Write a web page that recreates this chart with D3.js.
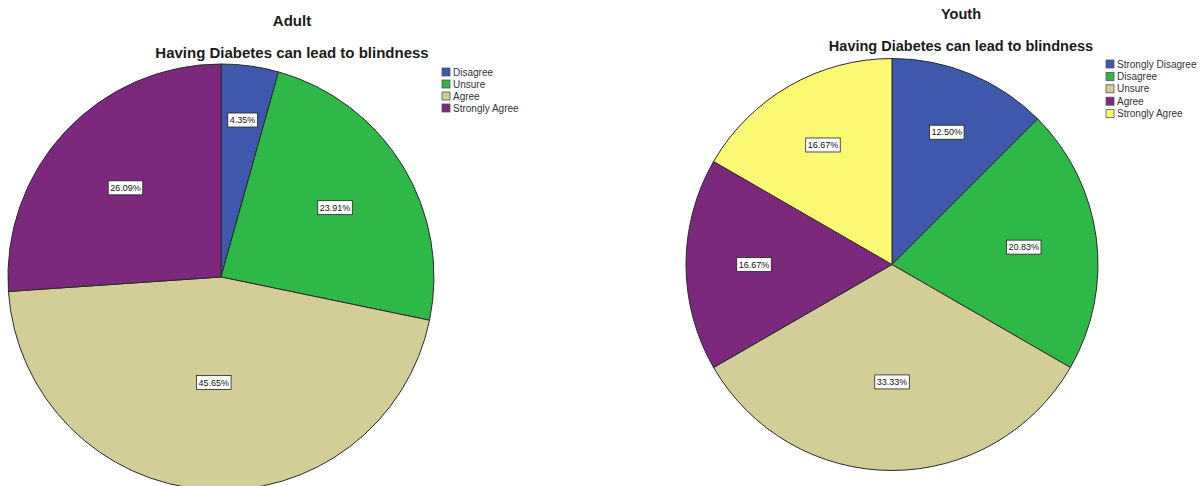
<!DOCTYPE html>
<meta charset="utf-8">
<title>Having Diabetes can lead to blindness</title>
<style>
body {
  margin: 0;
  background: #fff;
  font-family: "Liberation Sans", Arial, sans-serif;
}
.slice {
  stroke: #2a2a2a;
  stroke-width: 1px;
  vector-effect: non-scaling-stroke;
}
.title {
  font-weight: bold;
  fill: #1a1a1a;
}
.lbl rect {
  fill: #fff;
  stroke: #222;
  stroke-width: .8px;
}
.lbl text {
  font-size: 9px;
  fill: #111;
}
.legend text {
  font-size: 10px;
  fill: #333;
}
.legend rect {
  stroke: #555;
  stroke-width: .8px;
}
</style>
<body>
<script src="https://cdn.jsdelivr.net/npm/d3@7"></script>
<script>

var adultCategories = ["Disagree", "Unsure", "Agree", "Strongly Agree"],
    adultValues = [4.35, 23.91, 45.65, 26.09];

var youthCategories = ["Strongly Disagree", "Disagree", "Unsure", "Agree", "Strongly Agree"],
    youthValues = [12.50, 20.83, 33.33, 16.67, 16.67];

var subtitle = "Having Diabetes can lead to blindness";

// SPSS hands out colours in category order, per chart
var palette = ["#3e58ac", "#2eb848", "#d3ce97", "#7c287d", "#fbf873"];

var width = 1199,
    height = 486;

var svg = d3.select("body").append("svg")
    .attr("width", width)
    .attr("height", height);

var arc = d3.arc().innerRadius(0).outerRadius(1);
var fmt = d3.format(".2f");

function drawPanel(opt) {
  var color = d3.scaleOrdinal().domain(opt.categories).range(palette);
  var total = d3.sum(opt.values);

  var arcs = d3.pie().sort(null).value(function(d) { return d.v; })(
      opt.values.map(function(v, i) { return {v: v, c: opt.categories[i]}; }));

  var g = svg.append("g");

  g.append("g")
      .attr("transform", "translate(" + opt.cx + "," + opt.cy + ") scale(" + opt.r + ")")
    .selectAll("path")
      .data(arcs)
    .enter().append("path")
      .attr("class", "slice")
      .attr("d", arc)
      .style("fill", function(d) { return color(d.data.c); });

  // percentage labels: bigger slices put their label nearer the centre
  var lbl = g.selectAll(".lbl")
      .data(arcs)
    .enter().append("g")
      .attr("class", "lbl")
      .attr("transform", function(d) {
        var a = (d.startAngle + d.endAngle) / 2,
            k = 0.77 - 0.6 * d.data.v / total;
        var x = opt.cx + opt.r * k * Math.sin(a),
            y = opt.cy - opt.r * k * Math.cos(a);
        return "translate(" + x + "," + y + ")";
      });

  lbl.append("rect");
  lbl.append("text")
      .attr("text-anchor", "middle")
      .attr("dy", "0.35em")
      .text(function(d) { return fmt(d.data.v) + "%"; });
  lbl.each(function() {
    var t = d3.select(this).select("text").node().getBBox();
    d3.select(this).select("rect")
        .attr("x", t.x - 2)
        .attr("y", -7)
        .attr("width", t.width + 4)
        .attr("height", 14);
  });

  // titles
  g.append("text")
      .attr("class", "title")
      .attr("x", opt.tx)
      .attr("y", opt.ty1)
      .attr("text-anchor", "middle")
      .style("font-size", opt.titleSize + "px")
      .text(opt.title);

  g.append("text")
      .attr("class", "title")
      .attr("x", opt.tx)
      .attr("y", opt.ty2)
      .attr("text-anchor", "middle")
      .style("font-size", opt.subSize + "px")
      .text(subtitle);

  // legend
  var leg = g.append("g")
      .attr("class", "legend")
      .attr("transform", "translate(" + opt.lx + "," + opt.ly + ")");

  var item = leg.selectAll("g")
      .data(opt.categories)
    .enter().append("g")
      .attr("transform", function(d, i) { return "translate(0," + i * opt.lstep + ")"; });

  item.append("rect")
      .attr("x", 0)
      .attr("y", -4)
      .attr("width", 8)
      .attr("height", 8)
      .style("fill", function(d) { return color(d); });

  item.append("text")
      .attr("x", 11)
      .attr("dy", "0.35em")
      .text(function(d) { return d; });
}

drawPanel({
  categories: adultCategories, values: adultValues,
  cx: 221, cy: 277, r: 213,
  title: "Adult", tx: 292, ty1: 26, ty2: 58, titleSize: 15, subSize: 15,
  lx: 442, ly: 72, lstep: 12
});

drawPanel({
  categories: youthCategories, values: youthValues,
  cx: 892, cy: 264.5, r: 206,
  title: "Youth", tx: 961, ty1: 19, ty2: 51, titleSize: 14.5, subSize: 14.5,
  lx: 1106, ly: 64, lstep: 12.4
});

</script>
</body>
